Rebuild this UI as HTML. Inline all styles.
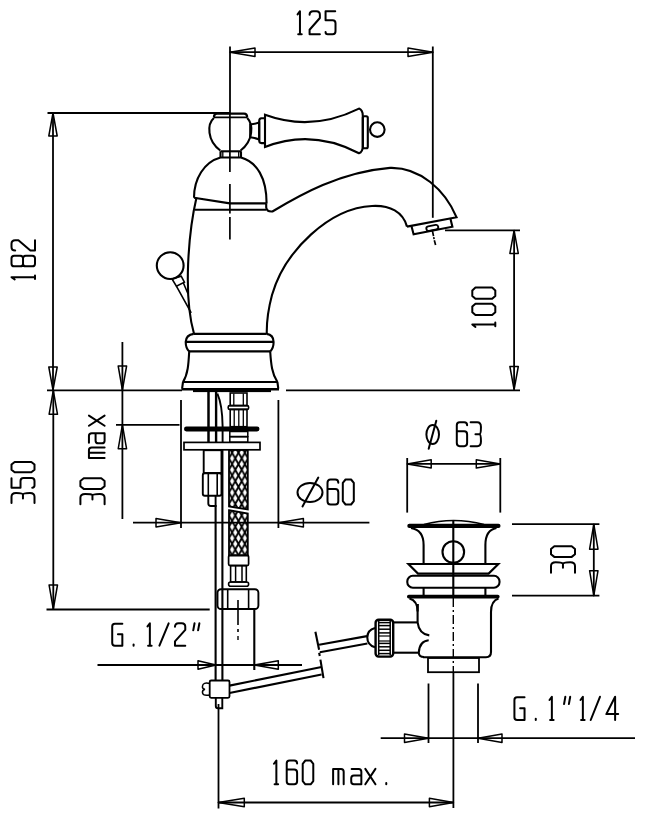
<!DOCTYPE html>
<html><head><meta charset="utf-8"><style>
html,body{margin:0;padding:0;background:#fff;}
svg{display:block;}
</style></head><body>
<svg width="646" height="820" viewBox="0 0 646 820" stroke="#000" fill="none" stroke-linecap="butt">
<line x1="230" y1="46.5" x2="230" y2="113" stroke-width="1.8" />
<line x1="432.8" y1="46.5" x2="432.8" y2="217.8" stroke-width="1.8" />
<line x1="230" y1="52.2" x2="433" y2="52.2" stroke-width="1.8" />
<polygon points="230.00,52.20 255.00,48.00 255.00,56.40" stroke-width="1.5" fill="none" stroke-linejoin="round"/>
<polygon points="433.00,52.20 408.00,56.40 408.00,48.00" stroke-width="1.5" fill="none" stroke-linejoin="round"/>
<g transform="translate(296.6,10.2) rotate(0)" stroke-width="2.0" fill="none" stroke-linecap="round" stroke-linejoin="round"><path transform="translate(0.72,1.0) scale(0.8800,0.9059)" d="M0.3,3.5 L3,0 V25.5 M1,25.5 H5" vector-effect="non-scaling-stroke"/><path transform="translate(12.72,1.0) scale(0.8800,0.9059)" d="M0.3,4 Q0.3,0 4.3,0 H8 Q12,0 12,4 V7.5 L0.3,20.5 V25.5 H12" vector-effect="non-scaling-stroke"/><path transform="translate(28.52,1.0) scale(0.8800,0.9059)" d="M11.5,0 H0.5 V10 H8.5 Q11.8,10 11.8,13.3 V22.2 Q11.8,25.5 8.5,25.5 H3 Q0.5,25.5 0.5,23" vector-effect="non-scaling-stroke"/></g>
<line x1="47.5" y1="113" x2="230" y2="113" stroke-width="1.8" />
<line x1="53" y1="113" x2="53" y2="390" stroke-width="1.8" />
<polygon points="53.00,113.00 57.20,136.00 48.80,136.00" stroke-width="1.5" fill="none" stroke-linejoin="round"/>
<polygon points="53.00,390.00 48.80,367.00 57.20,367.00" stroke-width="1.5" fill="none" stroke-linejoin="round"/>
<g transform="translate(10.5,280.5) rotate(-90)" stroke-width="2.0" fill="none" stroke-linecap="round" stroke-linejoin="round"><path transform="translate(0.72,1.0) scale(0.8800,0.9216)" d="M0.3,3.5 L3,0 V25.5 M1,25.5 H5" vector-effect="non-scaling-stroke"/><path transform="translate(14.22,1.0) scale(0.8800,0.9216)" d="M3,0 H9 Q12,0 12,3 V9.5 Q12,12.5 9,12.5 H3 Q0,12.5 0,9.5 V3 Q0,0 3,0 Z M3,12.5 H9 Q12,12.5 12,15.5 V22.5 Q12,25.5 9,25.5 H3 Q0,25.5 0,22.5 V15.5 Q0,12.5 3,12.5 Z" vector-effect="non-scaling-stroke"/><path transform="translate(29.72,1.0) scale(0.8800,0.9216)" d="M0.3,4 Q0.3,0 4.3,0 H8 Q12,0 12,4 V7.5 L0.3,20.5 V25.5 H12" vector-effect="non-scaling-stroke"/></g>
<line x1="47" y1="390.3" x2="182" y2="390.3" stroke-width="1.8" />
<line x1="286" y1="390.3" x2="520" y2="390.3" stroke-width="1.8" />
<line x1="445" y1="230.4" x2="520" y2="230.4" stroke-width="1.8" />
<line x1="514.1" y1="230.4" x2="514.1" y2="389.5" stroke-width="1.8" />
<polygon points="514.10,230.40 518.30,253.40 509.90,253.40" stroke-width="1.5" fill="none" stroke-linejoin="round"/>
<polygon points="514.10,389.50 509.90,366.50 518.30,366.50" stroke-width="1.5" fill="none" stroke-linejoin="round"/>
<g transform="translate(471.3,328) rotate(-90)" stroke-width="2.0" fill="none" stroke-linecap="round" stroke-linejoin="round"><path transform="translate(0.77,1.0) scale(0.9387,0.9020)" d="M0.3,3.5 L3,0 V25.5 M1,25.5 H5" vector-effect="non-scaling-stroke"/><path transform="translate(13.03,1.0) scale(0.9387,0.9020)" d="M3,0 H9 L12,3.5 V22 L9,25.5 H3 L0,22 V3.5 Z" vector-effect="non-scaling-stroke"/><path transform="translate(29.14,1.0) scale(0.9387,0.9020)" d="M3,0 H9 L12,3.5 V22 L9,25.5 H3 L0,22 V3.5 Z" vector-effect="non-scaling-stroke"/></g>
<line x1="53.3" y1="390.3" x2="53.3" y2="609" stroke-width="1.8" />
<polygon points="53.30,390.30 57.50,414.30 49.10,414.30" stroke-width="1.5" fill="none" stroke-linejoin="round"/>
<polygon points="53.30,609.00 49.10,585.00 57.50,585.00" stroke-width="1.5" fill="none" stroke-linejoin="round"/>
<line x1="46.5" y1="609.5" x2="209.7" y2="609.5" stroke-width="1.8" />
<g transform="translate(10.5,503.8) rotate(-90)" stroke-width="2.0" fill="none" stroke-linecap="round" stroke-linejoin="round"><path transform="translate(0.70,1.0) scale(0.8536,0.9020)" d="M0,0 H7.5 Q11.8,0 11.8,5 Q11.8,12.7 10,12.7 Q11.8,12.7 11.8,20.5 Q11.8,25.5 7.5,25.5 H0 M10,12.7 H5.5" vector-effect="non-scaling-stroke"/><path transform="translate(15.64,1.0) scale(0.8536,0.9020)" d="M11.5,0 H0.5 V10 H8.5 Q11.8,10 11.8,13.3 V22.2 Q11.8,25.5 8.5,25.5 H3 Q0.5,25.5 0.5,23" vector-effect="non-scaling-stroke"/><path transform="translate(31.54,1.0) scale(0.8536,0.9020)" d="M3,0 H9 L12,3.5 V22 L9,25.5 H3 L0,22 V3.5 Z" vector-effect="non-scaling-stroke"/></g>
<line x1="122.4" y1="342" x2="122.4" y2="519" stroke-width="1.8" />
<polygon points="122.40,390.00 118.20,366.00 126.60,366.00" stroke-width="1.5" fill="none" stroke-linejoin="round"/>
<polygon points="122.40,424.80 126.60,448.80 118.20,448.80" stroke-width="1.5" fill="none" stroke-linejoin="round"/>
<line x1="116" y1="424.8" x2="179.5" y2="424.8" stroke-width="1.8" />
<g transform="translate(79.4,505) rotate(-90)" stroke-width="2.0" fill="none" stroke-linecap="round" stroke-linejoin="round"><path transform="translate(0.72,1.0) scale(0.8800,0.9490)" d="M0,0 H7.5 Q11.8,0 11.8,5 Q11.8,12.7 10,12.7 Q11.8,12.7 11.8,20.5 Q11.8,25.5 7.5,25.5 H0 M10,12.7 H5.5" vector-effect="non-scaling-stroke"/><path transform="translate(16.12,1.0) scale(0.8800,0.9490)" d="M3,0 H9 L12,3.5 V22 L9,25.5 H3 L0,22 V3.5 Z" vector-effect="non-scaling-stroke"/><path transform="translate(47.02,1.0) scale(0.8800,0.9490)" d="M0,25.5 V9 H9 Q12,9 12,12 V25.5 M6,9 V25.5" vector-effect="non-scaling-stroke"/><path transform="translate(61.72,1.0) scale(0.8800,0.9490)" d="M0.5,9 H8.5 Q11.5,9 11.5,12 V25.5 H3 Q0,25.5 0,22.5 V19 Q0,16 3,16 H11.5" vector-effect="non-scaling-stroke"/><path transform="translate(79.22,1.0) scale(0.8800,0.9490)" d="M0,9 L11.5,25.5 M11.5,9 L0,25.5" vector-effect="non-scaling-stroke"/></g>
<line x1="181" y1="400" x2="181" y2="528" stroke-width="1.8" />
<line x1="278.4" y1="400" x2="278.4" y2="528" stroke-width="1.8" />
<line x1="133" y1="522.7" x2="369.4" y2="522.7" stroke-width="1.8" />
<polygon points="181.00,522.70 156.00,526.90 156.00,518.50" stroke-width="1.5" fill="none" stroke-linejoin="round"/>
<polygon points="278.40,522.70 303.40,518.50 303.40,526.90" stroke-width="1.5" fill="none" stroke-linejoin="round"/>
<g stroke-width="2" fill="none" stroke-linecap="round"><ellipse cx="310" cy="492.5" rx="12.5" ry="9.5"/><line x1="318.3" y1="477.6" x2="302.5" y2="506.4"/></g>
<g transform="translate(327.5,479.5) rotate(0)" stroke-width="2.0" fill="none" stroke-linecap="round" stroke-linejoin="round"><path transform="translate(0.00,0.0) scale(0.9167,0.9804)" d="M11.8,3.3 Q11.8,0 8.5,0 H3.3 Q0,0 0,3.3 V22.2 Q0,25.5 3.3,25.5 H8.5 Q11.8,25.5 11.8,22.2 V13 Q11.8,9.7 8.5,9.7 H0" vector-effect="non-scaling-stroke"/><path transform="translate(15.31,0.0) scale(0.9167,0.9804)" d="M3,0 H9 L12,3.5 V22 L9,25.5 H3 L0,22 V3.5 Z" vector-effect="non-scaling-stroke"/></g>
<line x1="97.5" y1="665" x2="302" y2="665" stroke-width="1.8" />
<polygon points="216.00,665.00 198.00,669.20 198.00,660.80" stroke-width="1.5" fill="none" stroke-linejoin="round"/>
<polygon points="254.30,665.00 278.30,660.80 278.30,669.20" stroke-width="1.5" fill="none" stroke-linejoin="round"/>
<g transform="translate(111.5,622.3) rotate(0)" stroke-width="2.0" fill="none" stroke-linecap="round" stroke-linejoin="round"><path transform="translate(0.72,1.0) scale(0.8800,0.8784)" d="M11.5,0.5 H3 Q0,0.5 0,3.5 V22.5 Q0,25.5 3,25.5 H11.5 V12.5 H6.5" vector-effect="non-scaling-stroke"/><path transform="translate(21.02,1.0) scale(0.8800,0.8784)" d="M1.2,24 V25.5" vector-effect="non-scaling-stroke"/><path transform="translate(35.72,1.0) scale(0.8800,0.8784)" d="M0.3,3.5 L3,0 V25.5 M1,25.5 H5" vector-effect="non-scaling-stroke"/><path transform="translate(47.92,1.0) scale(0.8800,0.8784)" d="M0,25.5 L10.5,0" vector-effect="non-scaling-stroke"/><path transform="translate(63.22,1.0) scale(0.8800,0.8784)" d="M0.3,4 Q0.3,0 4.3,0 H8 Q12,0 12,4 V7.5 L0.3,20.5 V25.5 H12" vector-effect="non-scaling-stroke"/><path transform="translate(80.42,1.0) scale(0.8800,0.8784)" d="M3,0 L1.5,8 M8.5,0 L7,8" vector-effect="non-scaling-stroke"/></g>
<line x1="407.2" y1="458" x2="407.2" y2="512.6" stroke-width="1.8" />
<line x1="500.3" y1="458" x2="500.3" y2="512.6" stroke-width="1.8" />
<line x1="407.2" y1="463.9" x2="500.3" y2="463.9" stroke-width="1.8" />
<polygon points="407.20,463.90 431.20,459.70 431.20,468.10" stroke-width="1.5" fill="none" stroke-linejoin="round"/>
<polygon points="500.30,463.90 476.30,468.10 476.30,459.70" stroke-width="1.5" fill="none" stroke-linejoin="round"/>
<g stroke-width="2" fill="none" stroke-linecap="round"><ellipse cx="432.7" cy="434.5" rx="6.3" ry="9.6"/><line x1="436.3" y1="420.7" x2="428.7" y2="448.8"/></g>
<g transform="translate(456.8,422.2) rotate(0)" stroke-width="2.0" fill="none" stroke-linecap="round" stroke-linejoin="round"><path transform="translate(0.00,0.0) scale(0.8750,0.9412)" d="M11.8,3.3 Q11.8,0 8.5,0 H3.3 Q0,0 0,3.3 V22.2 Q0,25.5 3.3,25.5 H8.5 Q11.8,25.5 11.8,22.2 V13 Q11.8,9.7 8.5,9.7 H0" vector-effect="non-scaling-stroke"/><path transform="translate(13.83,0.0) scale(0.8750,0.9412)" d="M0,0 H7.5 Q11.8,0 11.8,5 Q11.8,12.7 10,12.7 Q11.8,12.7 11.8,20.5 Q11.8,25.5 7.5,25.5 H0 M10,12.7 H5.5" vector-effect="non-scaling-stroke"/></g>
<line x1="512" y1="524.2" x2="599.4" y2="524.2" stroke-width="1.8" />
<line x1="512" y1="595.7" x2="599.4" y2="595.7" stroke-width="1.8" />
<line x1="593.8" y1="524.2" x2="593.8" y2="595.7" stroke-width="1.8" />
<polygon points="593.80,524.20 598.00,549.20 589.60,549.20" stroke-width="1.5" fill="none" stroke-linejoin="round"/>
<polygon points="593.80,595.70 589.60,570.70 598.00,570.70" stroke-width="1.5" fill="none" stroke-linejoin="round"/>
<g transform="translate(550,573.4) rotate(-90)" stroke-width="2.0" fill="none" stroke-linecap="round" stroke-linejoin="round"><path transform="translate(0.72,1.0) scale(0.8800,0.9412)" d="M0,0 H7.5 Q11.8,0 11.8,5 Q11.8,12.7 10,12.7 Q11.8,12.7 11.8,20.5 Q11.8,25.5 7.5,25.5 H0 M10,12.7 H5.5" vector-effect="non-scaling-stroke"/><path transform="translate(16.52,1.0) scale(0.8800,0.9412)" d="M3,0 H9 L12,3.5 V22 L9,25.5 H3 L0,22 V3.5 Z" vector-effect="non-scaling-stroke"/></g>
<line x1="428.5" y1="683.5" x2="428.5" y2="743" stroke-width="1.8" />
<line x1="478" y1="683.5" x2="478" y2="743" stroke-width="1.8" />
<line x1="380.7" y1="738.2" x2="635" y2="738.2" stroke-width="1.8" />
<polygon points="428.50,738.20 404.50,742.40 404.50,734.00" stroke-width="1.5" fill="none" stroke-linejoin="round"/>
<polygon points="478.00,738.20 502.00,734.00 502.00,742.40" stroke-width="1.5" fill="none" stroke-linejoin="round"/>
<g transform="translate(513.7,695.8) rotate(0)" stroke-width="2.0" fill="none" stroke-linecap="round" stroke-linejoin="round"><path transform="translate(0.72,1.0) scale(0.8800,0.9098)" d="M11.5,0.5 H3 Q0,0.5 0,3.5 V22.5 Q0,25.5 3,25.5 H11.5 V12.5 H6.5" vector-effect="non-scaling-stroke"/><path transform="translate(21.02,1.0) scale(0.8800,0.9098)" d="M1.2,24 V25.5" vector-effect="non-scaling-stroke"/><path transform="translate(35.52,1.0) scale(0.8800,0.9098)" d="M0.3,3.5 L3,0 V25.5 M1,25.5 H5" vector-effect="non-scaling-stroke"/><path transform="translate(49.02,1.0) scale(0.8800,0.9098)" d="M3,0 L1.5,8 M8.5,0 L7,8" vector-effect="non-scaling-stroke"/><path transform="translate(66.52,1.0) scale(0.8800,0.9098)" d="M0.3,3.5 L3,0 V25.5 M1,25.5 H5" vector-effect="non-scaling-stroke"/><path transform="translate(77.02,1.0) scale(0.8800,0.9098)" d="M0,25.5 L10.5,0" vector-effect="non-scaling-stroke"/><path transform="translate(92.62,1.0) scale(0.8800,0.9098)" d="M10,25.5 V0 L0,19 H13.5" vector-effect="non-scaling-stroke"/></g>
<line x1="218.5" y1="704" x2="218.5" y2="808.5" stroke-width="1.8" />
<line x1="453.4" y1="672" x2="453.4" y2="808" stroke-width="1.8" />
<line x1="218.3" y1="802.5" x2="453.4" y2="802.5" stroke-width="1.8" />
<polygon points="218.30,802.50 244.30,798.30 244.30,806.70" stroke-width="1.5" fill="none" stroke-linejoin="round"/>
<polygon points="453.40,802.50 429.40,806.70 429.40,798.30" stroke-width="1.5" fill="none" stroke-linejoin="round"/>
<g transform="translate(273,759.5) rotate(0)" stroke-width="2.0" fill="none" stroke-linecap="round" stroke-linejoin="round"><path transform="translate(0.72,1.0) scale(0.8800,0.9333)" d="M0.3,3.5 L3,0 V25.5 M1,25.5 H5" vector-effect="non-scaling-stroke"/><path transform="translate(13.72,1.0) scale(0.8800,0.9333)" d="M11.8,3.3 Q11.8,0 8.5,0 H3.3 Q0,0 0,3.3 V22.2 Q0,25.5 3.3,25.5 H8.5 Q11.8,25.5 11.8,22.2 V13 Q11.8,9.7 8.5,9.7 H0" vector-effect="non-scaling-stroke"/><path transform="translate(29.72,1.0) scale(0.8800,0.9333)" d="M3,0 H9 L12,3.5 V22 L9,25.5 H3 L0,22 V3.5 Z" vector-effect="non-scaling-stroke"/><path transform="translate(60.12,1.0) scale(0.8800,0.9333)" d="M0,25.5 V9 H9 Q12,9 12,12 V25.5 M6,9 V25.5" vector-effect="non-scaling-stroke"/><path transform="translate(78.22,1.0) scale(0.8800,0.9333)" d="M0.5,9 H8.5 Q11.5,9 11.5,12 V25.5 H3 Q0,25.5 0,22.5 V19 Q0,16 3,16 H11.5" vector-effect="non-scaling-stroke"/><path transform="translate(92.32,1.0) scale(0.8800,0.9333)" d="M0,9 L11.5,25.5 M11.5,9 L0,25.5" vector-effect="non-scaling-stroke"/><path transform="translate(112.22,1.0) scale(0.8800,0.9333)" d="M1.2,24 V25.5" vector-effect="non-scaling-stroke"/></g>
<path d="M213.9,117.5 Q214,113.6 217,113.6 H244 Q247.2,113.6 247.2,117.5" stroke-width="2.2" fill="none" />
<line x1="213.9" y1="117.4" x2="247.2" y2="117.4" stroke-width="1.6" />
<path d="M213.9,118 C207,124 207,141 220.3,150.5" stroke-width="2.1" fill="none" />
<path d="M247.2,118 C253.5,124 253.5,141 240.6,150.5" stroke-width="2.1" fill="none" />
<line x1="220.5" y1="151.3" x2="241" y2="151.3" stroke-width="2.1" />
<path d="M220.5,151.3 V157.5 M241,151.3 V157.5" stroke-width="2.1" fill="none" />
<line x1="222.8" y1="152" x2="222.8" y2="157.5" stroke-width="1.3" />
<line x1="238.7" y1="152" x2="238.7" y2="157.5" stroke-width="1.3" />
<path d="M194,197.7 C194,179 204,162 220.5,157.5 H241 C257,162 266.6,178 266.6,203.5" stroke-width="2.1" fill="none" />
<path d="M194,197.7 L229.8,203.4 H266.6" stroke-width="2.1" fill="none" />
<line x1="195" y1="209.8" x2="266" y2="209.8" stroke-width="2.1" />
<path d="M250.2,124.5 Q255,124 259.2,122.6 V139.4 Q255,138 250.2,137.2 Z" stroke-width="2.1" fill="none" />
<path d="M264.3,118.3 H261.5 Q259.2,118.5 259.2,121 V140.5 Q259.2,143 261.5,143.1 H264.3" stroke-width="2.1" fill="none" />
<path d="M265,114.8 Q311.8,132 359,108.6 Q362.8,110 362.8,116 V146 Q362.8,152 359,153.2 Q311.8,128.5 265,147 Z" stroke-width="2.1" fill="none" />
<rect x="362.8" y="116.2" width="5" height="32" rx="1.5" stroke-width="2.1" fill="none"/>
<circle cx="377.3" cy="129.6" r="7.3" stroke-width="2.1" fill="none"/>
<path d="M196.5,197.5 C188.5,232 183,295 194,333.8" stroke-width="2.1" fill="none" />
<path d="M266.2,203.5 V207.5 Q267,212 272.4,211.5 C300,195 340,172 390,167.9 C420,167 445,190 456.6,217.3 L407,226.6" stroke-width="2.1" fill="none" />
<path d="M407,226.6 C403,212 390,205 372,206 C330,208 285,250 272,295 C268,310 266.5,322 266.8,334" stroke-width="2.1" fill="none" />
<path d="M411.5,226.3 L413.6,234.3 L452.4,226.8 L450.5,219" stroke-width="2.1" fill="none" />
<rect x="426.3" y="225.6" width="12" height="4.6" rx="2.2" stroke-width="1.9" fill="none" transform="rotate(-11 432.3 227.9)"/>
<line x1="432.4" y1="230.6" x2="433.5" y2="236.2" stroke-width="1.7" />
<line x1="433.7" y1="237.2" x2="434.1" y2="239.2" stroke-width="1.6" />
<line x1="434.3" y1="240.2" x2="435.6" y2="245" stroke-width="1.7" />
<line x1="229.9" y1="113" x2="229.9" y2="172" stroke-width="1.7" />
<line x1="229.9" y1="184" x2="229.9" y2="213.4" stroke-width="1.7" />
<line x1="229.9" y1="217" x2="229.9" y2="239.6" stroke-width="1.7" />
<circle cx="170.2" cy="265.6" r="13.4" stroke-width="2.1" fill="none"/>
<path d="M172,279 L181.2,276.2 L184.4,282.2 L176.4,286.2 Z" stroke-width="1.6" fill="none" />
<path d="M176.4,286.2 L191.2,312.8 M183.4,283 L188,293.8" stroke-width="1.6" fill="none" />
<path d="M193.7,333.9 H266.7" stroke-width="2.1" fill="none" />
<path d="M193.7,333.9 Q186,335 185.7,341.9 Q185.7,348 189.2,351.5" stroke-width="2.1" fill="none" />
<path d="M266.7,333.9 Q273.5,335 273.6,341.9 Q273.6,348 270.2,351.5" stroke-width="2.1" fill="none" />
<line x1="185.8" y1="341.9" x2="273.5" y2="341.9" stroke-width="2.1" />
<line x1="189" y1="351.4" x2="270.4" y2="351.4" stroke-width="2.1" />
<path d="M189.2,351.5 C188.5,364 188,374 183,382" stroke-width="2.1" fill="none" />
<path d="M270.2,351.5 C271,364 272,374 277.4,382" stroke-width="2.1" fill="none" />
<line x1="182.6" y1="382" x2="278" y2="382" stroke-width="2.1" />
<path d="M183,382 L182.1,388.6 M277.4,382 L278.3,388.6" stroke-width="2.1" fill="none" />
<line x1="181.5" y1="389.2" x2="279" y2="389.2" stroke-width="2.6" />
<rect x="193" y="389.5" width="78" height="2.6" rx="0" stroke-width="0" fill="#000"/>
<line x1="208.5" y1="392" x2="208.5" y2="442" stroke-width="2.5" />
<line x1="216.1" y1="392" x2="216.1" y2="442" stroke-width="2.4" />
<path d="M217.4,393.7 Q222.3,405 222.6,426 V442" stroke-width="1.9" fill="none" />
<rect x="230.2" y="393" width="16.8" height="12.6" rx="0" stroke-width="1.6" fill="none"/>
<line x1="233.8" y1="393.5" x2="233.8" y2="405.5" stroke-width="1.3" />
<line x1="243.3" y1="393.5" x2="243.3" y2="405.5" stroke-width="1.3" />
<rect x="228.2" y="405.6" width="20.4" height="3.8" rx="1.5" stroke-width="1.6" fill="none"/>
<rect x="230.2" y="409.4" width="16.8" height="17.3" rx="0" stroke-width="1.6" fill="none"/>
<line x1="234.2" y1="410" x2="234.2" y2="426" stroke-width="1.3" />
<line x1="238.8" y1="410" x2="238.8" y2="426" stroke-width="1.3" />
<line x1="243.3" y1="410" x2="243.3" y2="426" stroke-width="1.3" />
<rect x="184" y="426.6" width="75.5" height="4.8" rx="2.4" stroke-width="0" fill="#000"/>
<rect x="229.8" y="431.5" width="18" height="5" rx="0" stroke-width="1.5" fill="none"/>
<rect x="229.8" y="436.8" width="18" height="5.4" rx="0" stroke-width="1.5" fill="none"/>
<rect x="184" y="442.4" width="76" height="7.4" rx="0" stroke-width="1.7" fill="none"/>
<rect x="203.7" y="450.2" width="17.8" height="22.8" rx="0" stroke-width="1.9" fill="none"/>
<rect x="202.8" y="473.2" width="18.7" height="22.6" rx="2" stroke-width="1.9" fill="none"/>
<line x1="208.3" y1="474" x2="208.3" y2="495" stroke-width="1.6" />
<line x1="217.2" y1="474" x2="217.2" y2="495" stroke-width="1.6" />
<path d="M208.3,495.8 V503.5 Q208.3,506 211,506 H215.6 V495.8" stroke-width="1.9" fill="none" />
<line x1="215.6" y1="505" x2="215.6" y2="680.5" stroke-width="2.1" />
<line x1="222.4" y1="450" x2="222.4" y2="680.5" stroke-width="2.1" />
<defs><pattern id="br" patternUnits="userSpaceOnUse" width="6.4" height="11.4" x="228.9" y="447"><path d="M-3.2,-5.7 L9.6,17.1 M9.6,-5.7 L-3.2,17.1" stroke="#000" stroke-width="1.9"/></pattern></defs>
<path d="M229,449.8 H247.8 V509.5 L229,506.5 Z" stroke-width="1.8" fill="url(#br)" />
<path d="M229,510.2 L247.8,513.5 V555.7 H229 Z" stroke-width="1.8" fill="url(#br)" />
<rect x="228.6" y="555.2" width="20" height="10.4" rx="1.5" stroke-width="1.7" fill="none"/>
<rect x="230.6" y="565.5" width="15.7" height="16.5" rx="0" stroke-width="1.6" fill="none"/>
<line x1="235.6" y1="566" x2="235.6" y2="581.5" stroke-width="1.5" />
<line x1="242" y1="566" x2="242" y2="581.5" stroke-width="1.5" />
<rect x="228.6" y="582" width="20" height="4.2" rx="2" stroke-width="1.6" fill="none"/>
<rect x="217.5" y="589.2" width="40.9" height="19.8" rx="3.5" stroke-width="1.9" fill="none"/>
<line x1="227.7" y1="589.7" x2="227.7" y2="608.5" stroke-width="1.6" />
<line x1="248.6" y1="589.7" x2="248.6" y2="608.5" stroke-width="1.6" />
<line x1="254.3" y1="608" x2="254.3" y2="670" stroke-width="2.1" />
<line x1="238" y1="600" x2="238" y2="625" stroke-width="1.6" />
<line x1="238" y1="629" x2="238" y2="632" stroke-width="1.6" />
<line x1="238" y1="636" x2="238" y2="640" stroke-width="1.4" />
<rect x="209.7" y="680.5" width="19.8" height="17.3" rx="1.5" stroke-width="1.8" fill="none"/>
<path d="M209.7,683.5 Q203,682 202.5,686 Q202,689 205,689.3 Q202,690 202.5,693 Q203,696 209.7,695" stroke-width="1.5" fill="none" />
<path d="M215.8,697.6 V706 Q215.8,708.3 218,708.3 H222.3 V697.6" stroke-width="1.9" fill="none" />
<line x1="229.5" y1="685.6" x2="321.6" y2="667" stroke-width="2.1" />
<line x1="229.5" y1="693" x2="321.6" y2="674.5" stroke-width="2.1" />
<line x1="320.4" y1="659.6" x2="323.5" y2="678.2" stroke-width="2.1" />
<line x1="319.1" y1="644.8" x2="367" y2="636.1" stroke-width="2.1" />
<line x1="319.8" y1="652.2" x2="367.4" y2="643.5" stroke-width="2.1" />
<line x1="315.4" y1="631.8" x2="319.1" y2="649.7" stroke-width="2.1" />
<line x1="319.1" y1="652.8" x2="319.8" y2="655.9" stroke-width="2.1" />
<path d="M375,628 Q367.3,630 367.3,637.5 Q367.3,645 375,647.2" stroke-width="2.1" fill="none" />
<rect x="375.6" y="619.8" width="17.6" height="36.8" rx="3" stroke-width="2.4" fill="none"/>
<line x1="378.7" y1="621" x2="378.7" y2="655.5" stroke-width="1.5" />
<line x1="390.2" y1="621" x2="390.2" y2="655.5" stroke-width="1.5" />
<line x1="378.7" y1="622.6" x2="390.2" y2="622.6" stroke-width="1.5" />
<line x1="378.7" y1="625.6" x2="390.2" y2="625.6" stroke-width="1.5" />
<line x1="378.7" y1="629.2" x2="390.2" y2="629.2" stroke-width="1.5" />
<line x1="378.7" y1="632.9" x2="390.2" y2="632.9" stroke-width="1.5" />
<line x1="378.7" y1="643.4" x2="390.2" y2="643.4" stroke-width="1.5" />
<line x1="378.7" y1="646.8" x2="390.2" y2="646.8" stroke-width="1.5" />
<line x1="378.7" y1="650.3" x2="390.2" y2="650.3" stroke-width="1.5" />
<line x1="378.7" y1="653.6" x2="390.2" y2="653.6" stroke-width="1.5" />
<line x1="378.7" y1="636" x2="390.2" y2="636" stroke-width="1.2" />
<line x1="378.7" y1="641" x2="390.2" y2="641" stroke-width="1.2" />
<line x1="393.2" y1="622.4" x2="417.6" y2="622.4" stroke-width="2.1" />
<line x1="393.2" y1="652.7" x2="418.8" y2="652.7" stroke-width="2.1" />
<path d="M417.6,604 V622.4 Q419,634 429.3,635.4" stroke-width="2.1" fill="none" />
<path d="M428.7,640.3 Q419.5,641 418.8,652.7 Q419,657 424,657" stroke-width="2.1" fill="none" />
<path d="M424,524.5 Q453.3,516.5 484,524.5" stroke-width="1.7" fill="none" />
<rect x="407.3" y="523.8" width="93.2" height="4.3" rx="2" stroke-width="0" fill="#000"/>
<path d="M411,528 Q423.6,530 423.6,545 V564" stroke-width="2.1" fill="none" />
<path d="M496.5,528 Q485.4,530 485.4,545 V564" stroke-width="2.1" fill="none" />
<circle cx="453.3" cy="552" r="10.8" stroke-width="2.1" fill="none"/>
<line x1="453.3" y1="520.5" x2="453.3" y2="596" stroke-width="2.1" />
<path d="M408.4,564 H498.4 L488.6,573.6 H418 Z" stroke-width="2.1" fill="none" />
<rect x="407.3" y="575.8" width="92.2" height="11.9" rx="5.5" stroke-width="2.1" fill="none"/>
<line x1="423.6" y1="587.7" x2="423.6" y2="596" stroke-width="2.1" />
<line x1="485.4" y1="587.7" x2="485.4" y2="596" stroke-width="2.1" />
<rect x="407" y="594.8" width="92.6" height="3.8" rx="1.8" stroke-width="0" fill="#000"/>
<path d="M409.5,598.6 Q417.6,601 417.6,611.5 V604" stroke-width="2.1" fill="none" />
<path d="M423,657.2 H486 Q491,657.2 491,652 V612 Q491,601 498.5,598.6" stroke-width="2.1" fill="none" />
<rect x="428" y="658" width="51" height="14.2" rx="0" stroke-width="1.8" fill="none"/>
<line x1="453.3" y1="598" x2="453.3" y2="672" stroke-width="1.4" stroke-dasharray="9,3,2,3"/>
</svg>
</body></html>
